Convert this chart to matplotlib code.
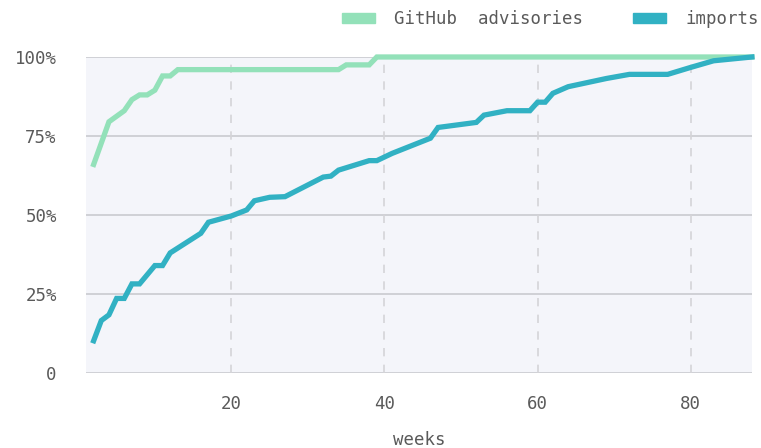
import matplotlib.pyplot as plt

plt.rcParams['font.family'] = 'DejaVu Sans Mono'

# data (cumulative share, %)
adv_weeks = [2, 4, 6, 7, 8, 9, 10, 11, 12, 13, 34, 35, 38, 39, 88]
adv_share = [66, 79.5, 83, 86.5, 88, 88, 89.5, 94, 94, 96, 96, 97.5, 97.5, 100, 100]

imp_weeks = [2, 3, 4, 5, 6, 7, 8, 10, 11, 12, 16, 17, 20, 22, 23, 25, 27,
             32, 33, 34, 36, 38, 39, 41, 46, 47, 52, 53, 56, 59, 60, 61, 62,
             64, 69, 72, 77, 80, 83, 88]
imp_share = [10.2, 16.6, 18.4, 23.6, 23.6, 28.2, 28.2, 34, 34, 38, 44.2, 47.7,
             49.7, 51.6, 54.5, 55.6, 55.8, 62, 62.3, 64.2, 65.7, 67.2, 67.2,
             69.5, 74.3, 77.7, 79.3, 81.6, 83, 83, 85.7, 85.7, 88.5, 90.6,
             93.2, 94.5, 94.5, 96.7, 98.8, 100]

y_ticks = [0, 25, 50, 75, 100]
y_labels = ['0', '25%', '50%', '75%', '100%']
x_ticks = [20, 40, 60, 80]

green = '#93e1b9'
blue = '#31b1c3'
text_col = '#5a5a5a'

fig = plt.figure(figsize=(7.61, 4.48), dpi=100)
ax = fig.add_axes([0.113, 0.1674, 0.875, 0.7054])
ax.set_facecolor('#f4f5fa')

ax.plot(adv_weeks, adv_share, color=green, lw=3.8, label='GitHub  advisories',
        clip_on=False, zorder=3, solid_joinstyle='miter')
ax.plot(imp_weeks, imp_share, color=blue, lw=3.8, label='imports',
        clip_on=False, zorder=4, solid_joinstyle='miter')

ax.set_xlim(1, 88)
ax.set_ylim(0, 100)

# grid
for y in y_ticks:
    ax.axhline(y, color='#d0d0d6', lw=1.4, zorder=1)
for x in x_ticks:
    ax.axvline(x, color='#d4d4d8', lw=1.2, ls=(0, (5, 5)), zorder=1)

for s in ax.spines.values():
    s.set_visible(False)

ax.set_yticks(y_ticks)
ax.set_yticklabels(y_labels)
ax.set_xticks(x_ticks)
ax.tick_params(axis='both', length=0, labelsize=12.5, colors=text_col)
ax.tick_params(axis='y', pad=21)
ax.tick_params(axis='x', pad=15.5)
ax.set_xlabel('weeks', fontsize=12.5, color=text_col, labelpad=13)

handles = [plt.Rectangle((0, 0), 1, 1, color=green),
           plt.Rectangle((0, 0), 1, 1, color=blue)]
leg = fig.legend(handles, ['GitHub  advisories', 'imports'], loc='upper right',
                 bbox_to_anchor=(1.018, 1.012), ncol=2, frameon=False,
                 fontsize=12.5, handlelength=1.9, handleheight=0.5,
                 columnspacing=2.9, handletextpad=1.1)
for t in leg.get_texts():
    t.set_color(text_col)

fig.savefig('out.png', dpi=100, facecolor='white')
